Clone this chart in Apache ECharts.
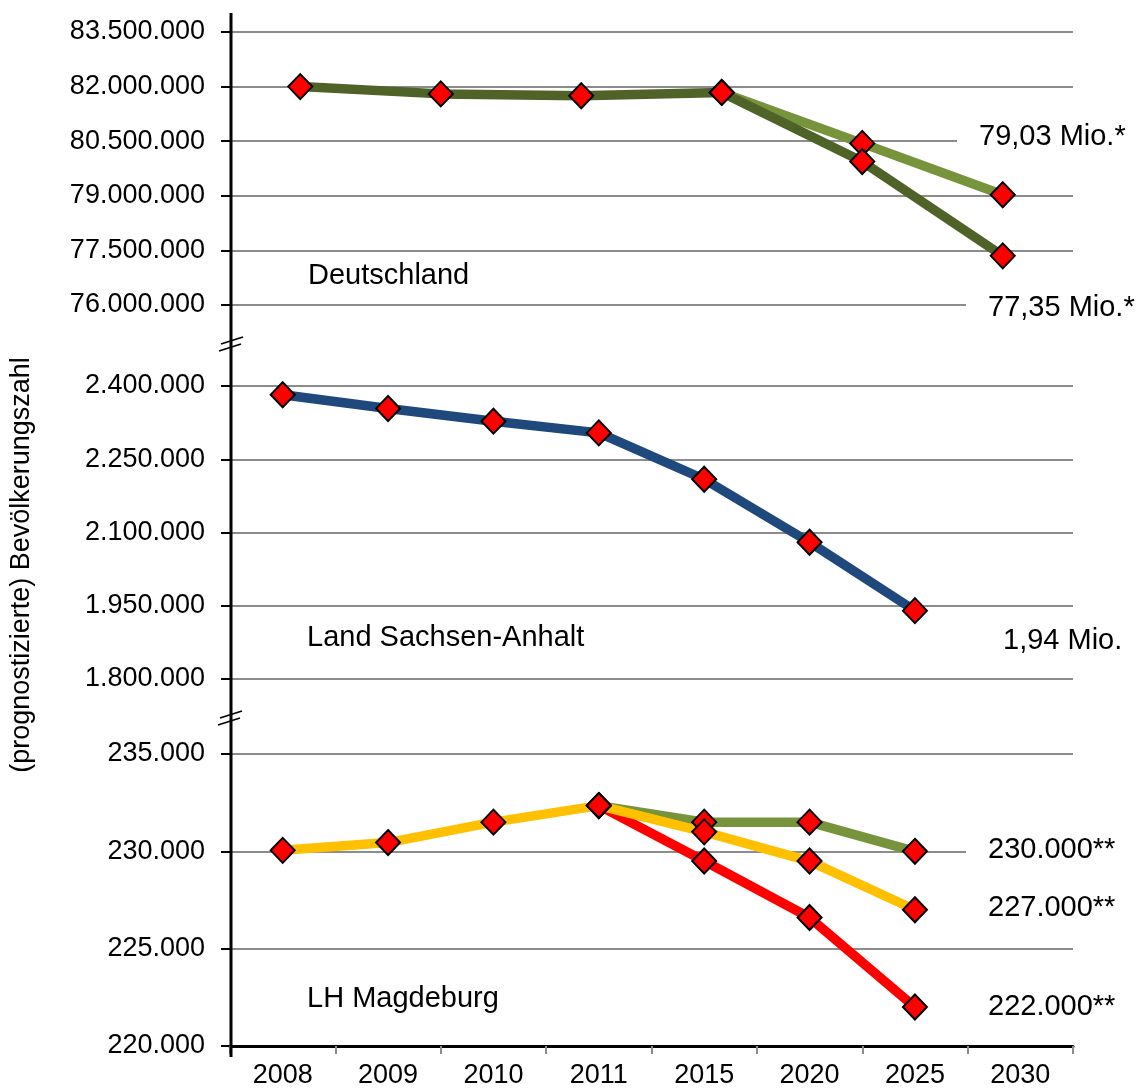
<!DOCTYPE html>
<html><head><meta charset="utf-8">
<script src="https://cdn.jsdelivr.net/npm/echarts@6/dist/echarts.min.js"></script>
<style>html,body{margin:0;padding:0;background:#fff}#c{width:1136px;height:1088px}</style>
</head><body><div id="c"></div>
<script>
// ---------- data ----------
const deYears = ['2008', '2009', '2010', '2011', '2020', '2030'];
const deVariantW1 = [82000000, 81800000, 81750000, 81840000, 79940000, 77350000];
const deVariantW2 = [null, null, null, 81840000, 80440000, 79030000];
const deTicks = { min: 76000000, max: 83500000, step: 1500000 };

const years = ['2008', '2009', '2010', '2011', '2015', '2020', '2025', '2030'];
const lsaValues = [2382000, 2354000, 2328000, 2304000, 2209000, 2080000, 1940000, null];
const lsaTicks = { min: 1800000, max: 2400000, step: 150000 };

const mdYellow = [230050, 230450, 231500, 232350, 231000, 229500, 227000, null];
const mdGreen = [null, null, null, 232350, 231500, 231500, 230000, null];
const mdRed = [null, null, null, 232350, 229500, 226600, 222000, null];
const mdTicks = { min: 220000, max: 235000, step: 5000 };

const panelTitles = ['Deutschland', 'Land Sachsen-Anhalt', 'LH Magdeburg'];
const endLabels = ['79,03 Mio.*', '77,35 Mio.*', '1,94 Mio.', '230.000**', '227.000**', '222.000**'];
const yTitle = '(prognostizierte) Bevölkerungszahl';

// ---------- layout / style ----------
const F = '"Liberation Sans", Arial, sans-serif';
const L = 230, R = 1073;
const panels = [
  { top: 32, bottom: 305 },
  { top: 386, bottom: 679 },
  { top: 754, bottom: 1046 }
];
const fmt = v => String(Math.round(v)).replace(/\B(?=(\d{3})+(?!\d))/g, '.');

function yAx(i, t) {
  return {
    gridIndex: i, type: 'value', min: t.min, max: t.max, interval: t.step,
    axisLine: { show: false },
    axisTick: { show: true, length: 9, lineStyle: { color: '#000', width: 2 } },
    axisLabel: { fontSize: 27, color: '#000', fontFamily: F, margin: 25, formatter: fmt },
    splitLine: { show: true, lineStyle: { color: '#8c8c8c', width: 2 } }
  };
}
function ln(xi, data, color) {
  return {
    type: 'line', xAxisIndex: xi, yAxisIndex: xi, data: data,
    symbol: 'diamond', symbolSize: [24, 25], showAllSymbol: true, connectNulls: false,
    lineStyle: { color: color, width: 9.5, cap: 'round', join: 'round' },
    itemStyle: { color: '#ff0000', borderColor: '#000', borderWidth: 2 },
    emphasis: { disabled: true }, silent: true, animation: false
  };
}

const txt = (s, x, y, size, extra) => ({
  type: 'text', x: x, y: y, z: 100,
  style: Object.assign({ text: s, font: size + 'px ' + F, fill: '#000', align: 'left', verticalAlign: 'middle' }, extra || {})
});
const boxed = (s, x, y) => txt(s, x, y, 29, { backgroundColor: '#fff', padding: [3, 6, 3, 22] });

const chart = echarts.init(document.getElementById('c'), null, { renderer: 'canvas' });
chart.setOption({
  animation: false,
  backgroundColor: '#fff',
  grid: panels.map(p => ({ left: L, width: R - L, top: p.top, height: p.bottom - p.top, containLabel: false, outerBoundsMode: 'none' })),
  xAxis: [
    { gridIndex: 0, type: 'category', data: deYears, show: false },
    { gridIndex: 1, type: 'category', data: years, show: false },
    {
      gridIndex: 2, type: 'category', data: years,
      axisLine: { show: true, onZero: false, lineStyle: { color: '#000', width: 3 } },
      axisTick: { show: true, length: 8, lineStyle: { color: '#8c8c8c', width: 2 } },
      axisLabel: { fontSize: 27, color: '#000', fontFamily: F, margin: 16, interval: 0 },
      splitLine: { show: false }
    }
  ],
  yAxis: [yAx(0, deTicks), yAx(1, lsaTicks), yAx(2, mdTicks)],
  series: [
    ln(0, deVariantW2, '#77933C'),
    ln(0, deVariantW1, '#4F6228'),
    ln(1, lsaValues, '#1F497D'),
    ln(2, mdGreen, '#77933C'),
    ln(2, mdRed, '#FF0000'),
    ln(2, mdYellow, '#FFC000')
  ],
  graphic: [
    // continuous y axis line and break marks
    { type: 'line', z: 100, shape: { x1: 231, y1: 13, x2: 231, y2: 1057 }, style: { stroke: '#000', lineWidth: 3 } },
    { type: 'line', z: 100, shape: { x1: 221, y1: 344, x2: 243, y2: 337 }, style: { stroke: '#000', lineWidth: 1.5 } },
    { type: 'line', z: 100, shape: { x1: 219, y1: 351, x2: 241, y2: 344 }, style: { stroke: '#000', lineWidth: 1.5 } },
    { type: 'line', z: 100, shape: { x1: 220, y1: 718, x2: 242, y2: 711 }, style: { stroke: '#000', lineWidth: 1.5 } },
    { type: 'line', z: 100, shape: { x1: 218, y1: 725, x2: 240, y2: 718 }, style: { stroke: '#000', lineWidth: 1.5 } },
    // panel titles
    txt(panelTitles[0], 308, 276, 29),
    txt(panelTitles[1], 307, 638, 29),
    txt(panelTitles[2], 307, 999, 29),
    // end labels
    boxed(endLabels[0], 957, 137),
    boxed(endLabels[1], 966, 308),
    boxed(endLabels[2], 981, 641),
    boxed(endLabels[3], 966, 850),
    boxed(endLabels[4], 966, 908),
    boxed(endLabels[5], 966, 1007),
    // y axis title
    { type: 'text', x: 22, y: 565, rotation: Math.PI / 2, z: 100,
      style: { text: yTitle, font: '27px ' + F, fill: '#000', align: 'center', verticalAlign: 'middle' } }
  ]
});
</script>
</body></html>
